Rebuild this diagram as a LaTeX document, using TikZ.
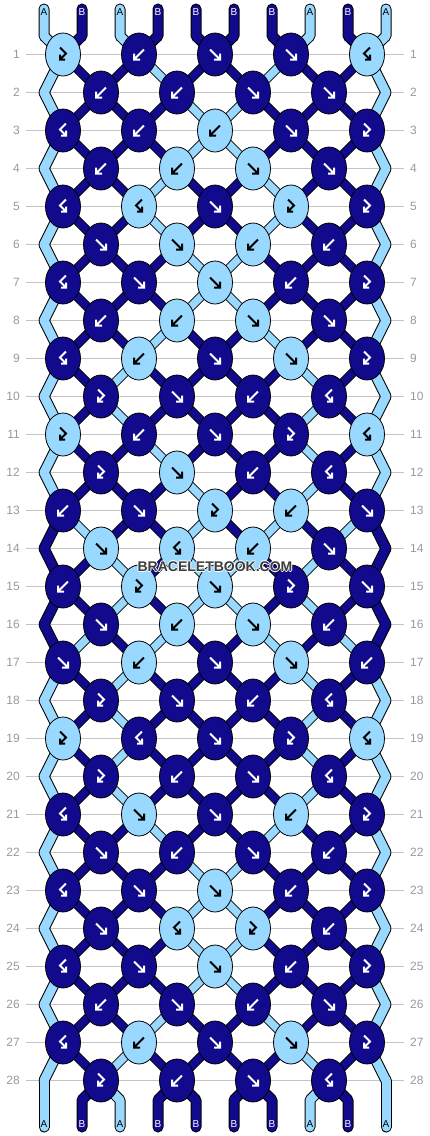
\documentclass[tikz,border=0pt]{standalone}
\usepackage{fontspec}
\setmainfont{Liberation Sans}
\usetikzlibrary{shapes.geometric}

\pgfdeclarelayer{grid}
\pgfdeclarelayer{strokes}
\pgfdeclarelayer{fills}
\pgfsetlayers{grid,strokes,fills,main}

\definecolor{threadA}{HTML}{99D9FF}
\definecolor{threadB}{HTML}{120A8C}
\definecolor{rownum}{HTML}{9A9A9A}
\definecolor{rowline}{HTML}{C4C4C4}
\definecolor{markgrey}{HTML}{3C3C3C}
\colorlet{labelA}{black}
\colorlet{labelB}{white}

% light halo round the watermark letters
\newcommand\halotext[1]{%
  \rlap{\color{white}\kern0.9pt#1}\rlap{\color{white}\kern-0.9pt#1}%
  \rlap{\color{white}\raisebox{0.9pt}{#1}}\rlap{\color{white}\raisebox{-0.9pt}{#1}}#1}

\tikzset{
  knot/.style={ellipse, draw=black, line width=0.8pt, minimum width=35pt, minimum height=43pt, inner sep=0pt},
  glyph A/.style={black},
  glyph B/.style={white},
  arrowline/.style={line width=2pt, line cap=butt, line join=miter},
  pics/knot r/.style={code={\draw[arrowline] (-5,-5) -- (5,5) (5,-1) -- (5,5) -- (-1,5);}},
  pics/knot l/.style={code={\draw[arrowline] (5,-5) -- (-5,5) (-5,-1) -- (-5,5) -- (1,5);}},
  pics/knot rl/.style={code={\draw[arrowline] (-3,-7) -- (3,-1) -- (-3,5) (-3,0) -- (-3,5) -- (2,5);}},
  pics/knot lr/.style={code={\draw[arrowline] (3,-7) -- (-3,-1) -- (3,5) (3,0) -- (3,5) -- (-2,5);}},
  string edge/.style={black, line cap=round, line join=round},
  string A/.style={threadA, line cap=round, line join=round},
  string B/.style={threadB, line cap=round, line join=round},
  thread strokes/.style={string edge},
  thread fills/.style={string #1},
  wide-strokes/.style={line width=11pt},
  wide-fills/.style={line width=9pt},
  narrow-strokes/.style={line width=9.5pt},
  narrow-fills/.style={line width=7.5pt},
  endlabel/.style={font=\fontsize{10}{10}\selectfont, inner sep=0pt},
  rowno/.style={text=rownum, font=\fontsize{12}{12}\selectfont, inner sep=0pt},
  rowrule/.style={rowline, line width=1pt}
}

\begin{document}
\begin{tikzpicture}[x=1pt,y=-1pt]
  \useasboundingbox (0,0) rectangle (430,1136);

  % row numbers and rules
  \foreach \r in {1,...,28}{
    \pgfmathsetmacro\ky{54.5+38*(\r-1)}
    \node[rowno, anchor=east] (nl\r) at (20,\ky) {\r};
    \node[rowno, anchor=west] (nr\r) at (410,\ky) {\r};
  }
  \begin{pgfonlayer}{grid}
    \fill[white] (0,0) rectangle (430,1136);
    \foreach \r in {1,...,28}
      \draw[rowrule] ([xshift=6pt]nl\r.east) -- ([xshift=-6pt]nr\r.west);
  \end{pgfonlayer}

  % knots
  \foreach \r/\knots in {
    1/{rl/A,l/B,r/B,r/B,lr/A},
    2/{l/B,l/B,r/B,r/B},
    3/{lr/B,l/B,l/A,r/B,rl/B},
    4/{l/B,l/A,r/A,r/B},
    5/{lr/B,lr/A,r/B,rl/A,rl/B},
    6/{r/B,r/A,l/A,l/B},
    7/{lr/B,r/B,r/A,l/B,rl/B},
    8/{l/B,l/A,r/A,r/B},
    9/{lr/B,l/A,r/B,r/A,rl/B},
    10/{rl/B,r/B,l/B,lr/B},
    11/{rl/A,l/B,r/B,rl/B,lr/A},
    12/{rl/B,r/A,l/B,lr/B},
    13/{l/B,r/B,rl/A,l/A,r/B},
    14/{r/A,lr/A,l/A,r/B},
    15/{l/B,rl/A,r/A,rl/B,r/B},
    16/{r/B,l/A,r/A,l/B},
    17/{r/B,l/A,r/B,r/A,l/B},
    18/{rl/B,r/B,l/B,lr/B},
    19/{rl/A,lr/B,r/B,rl/B,lr/A},
    20/{rl/B,l/B,r/B,lr/B},
    21/{lr/B,r/A,r/B,l/A,rl/B},
    22/{r/B,l/B,r/B,l/B},
    23/{lr/B,r/B,r/A,l/B,rl/B},
    24/{r/B,lr/A,rl/A,l/B},
    25/{lr/B,r/B,r/A,l/B,rl/B},
    26/{l/B,r/B,l/B,r/B},
    27/{lr/B,l/A,r/B,r/A,rl/B},
    28/{rl/B,l/B,r/B,lr/B}}{
    \pgfmathsetmacro\ky{54.5+38*(\r-1)}
    \ifodd\r\else
      \coordinate (k\r-0) at (44,\ky);
      \coordinate (k\r-10) at (386,\ky);
    \fi
    \foreach \t/\c [count=\i from 0] in \knots {
      \pgfmathtruncatemacro\kc{2*\i+1+mod(\r+1,2)}
      \node[knot, fill=thread\c] (k\r-\kc) at (25+38*\kc,\ky) {};
      \pic[glyph \c] at (k\r-\kc) {knot \t};
    }
  }

  % threads: black edge first, colour on top
  \foreach \pass in {strokes,fills}{
  \begin{pgfonlayer}{\pass}
  \foreach \r/\cols in {
    1/{A,B,B,A,B,B,A,B,B,A},
    2/{A,B,B,B,A,A,B,B,B,A},
    3/{A,B,B,B,A,A,B,B,B,A},
    4/{A,B,B,A,B,B,A,B,B,A},
    5/{A,B,B,A,B,B,A,B,B,A},
    6/{A,B,B,B,A,A,B,B,B,A},
    7/{A,B,B,B,A,A,B,B,B,A},
    8/{A,B,B,A,B,B,A,B,B,A},
    9/{A,B,A,B,B,B,B,A,B,A},
    10/{A,B,A,B,B,B,B,A,B,A},
    11/{A,B,B,A,B,B,B,A,B,A},
    12/{A,B,B,B,A,B,B,A,B,A},
    13/{B,A,B,B,A,B,A,B,A,B},
    14/{B,B,A,B,A,A,B,A,B,B},
    15/{B,B,A,B,A,A,B,A,B,B},
    16/{B,A,B,A,B,B,A,B,A,B},
    17/{A,B,A,B,B,B,B,A,B,A},
    18/{A,B,A,B,B,B,B,A,B,A},
    19/{A,B,A,B,B,B,B,A,B,A},
    20/{A,B,A,B,B,B,B,A,B,A},
    21/{A,B,B,A,B,B,A,B,B,A},
    22/{A,B,B,B,A,A,B,B,B,A},
    23/{A,B,B,B,A,A,B,B,B,A},
    24/{A,B,B,B,A,A,B,B,B,A},
    25/{A,B,B,B,A,A,B,B,B,A},
    26/{A,B,B,A,B,B,A,B,B,A},
    27/{A,B,A,B,B,B,B,A,B,A}}{
    \pgfmathtruncatemacro\nr{\r+1}
    \foreach \c [count=\p from 0] in \cols {
      \pgfmathtruncatemacro\ca{isodd(\r) ? \p-mod(\p,2)+1 : \p+mod(\p,2)}
      \pgfmathtruncatemacro\cb{isodd(\r) ? \p+mod(\p,2) : \p-mod(\p,2)+1}
      \pgfmathtruncatemacro\side{(\p==0)||(\p==9)}
      \ifnum\side=1 \def\sz{wide}\else\def\sz{narrow}\fi
      \draw[thread \pass=\c, \sz-\pass] (k\r-\ca.center) -- (k\nr-\cb.center);
    }
  }
  % loose ends, top and bottom
  \foreach \c [count=\p from 0] in {A,B,A,B,B,B,B,A,B,A}{
    \pgfmathtruncatemacro\kt{\p-mod(\p,2)+1}
    \pgfmathtruncatemacro\kb{\p+mod(\p,2)}
    \coordinate (top\p) at (44+38*\p,9);
    \coordinate (bot\p) at (44+38*\p,1127);
    \draw[thread \pass=\c, wide-\pass] (top\p) -- ++(0,27) -- (k1-\kt.center);
    \draw[thread \pass=\c, wide-\pass] (k28-\kb.center) -- ([yshift=27pt]bot\p) -- (bot\p);
  }
  \end{pgfonlayer}
  }

  \foreach \c [count=\p from 0] in {A,B,A,B,B,B,B,A,B,A}{
    \node[endlabel, text=label\c] (lt\p) at (44+38*\p,12) {\c};
    \node[endlabel, text=label\c] (lb\p) at (44+38*\p,1124) {\c};
  }

  \node[font=\bfseries\fontsize{14}{14}\selectfont, text=markgrey] (mark) at (215,567) {\halotext{BRACELETBOOK.COM}};
\end{tikzpicture}
\end{document}
